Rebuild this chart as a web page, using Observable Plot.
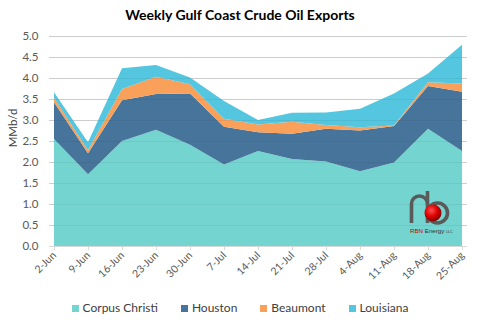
<!DOCTYPE html>
<html>
<head>
<meta charset="utf-8">
<script src="https://cdn.jsdelivr.net/npm/d3@7"></script>
<script src="https://cdn.jsdelivr.net/npm/@observablehq/plot@0.6"></script>
<style>
  html, body { margin: 0; padding: 0; background: #fff; }
  body { width: 480px; height: 321px; overflow: hidden; position: relative; font-family: Lato, "Open Sans", sans-serif; }
  #title { height: 28px; line-height: 30px; text-align: center; font-weight: bold; font-size: 14px; color: #000; }
  #chart svg { display: block; }
  #legend { display: flex; justify-content: center; gap: 23px; height: 26px; line-height: 26px; padding-top: 2px; font-size: 12px; color: #404040; }
  #legend span.sw { display: inline-block; width: 7px; height: 7px; margin-right: 4px; vertical-align: 0px; }
  #ylabel { position: absolute; left: 12px; top: 128px; transform: translate(-50%, -50%) rotate(-90deg); font-size: 11.5px; color: #404040; white-space: nowrap; }
  #logo { position: absolute; left: 395px; top: 180px; }
</style>
</head>
<body>
<div id="title">Weekly Gulf Coast Crude Oil Exports</div>
<div id="chart"></div>
<div id="legend"></div>
<div id="ylabel">MMb/d</div>
<svg id="logo" width="60" height="60" viewBox="0 0 60 60">
  <defs>
    <radialGradient id="ball" cx="0.4" cy="0.35" r="0.7">
      <stop offset="0" stop-color="#ff5050"/>
      <stop offset="0.5" stop-color="#e00000"/>
      <stop offset="1" stop-color="#700000"/>
    </radialGradient>
  </defs>
  <path d="M16.5 43 V24 a8 8 0 0 1 16 0" fill="none" stroke="#5a5a5a" stroke-width="3.6"/>
  <path d="M32.5 11 V43" fill="none" stroke="#5a5a5a" stroke-width="3.6"/>
  <circle cx="42.5" cy="33" r="10" fill="none" stroke="#5a5a5a" stroke-width="3.6"/>
  <circle cx="38" cy="33" r="8.5" fill="url(#ball)"/>
  <text x="15" y="53" font-size="6.2" font-family="Liberation Sans, sans-serif" fill="#333"><tspan fill="#c00">RBN</tspan> Energy <tspan font-size="3.5">LLC</tspan></text>
</svg>
<script>
const dates = ["2-Jun","9-Jun","16-Jun","23-Jun","30-Jun","7-Jul","14-Jul","21-Jul","28-Jul","4-Aug","11-Aug","18-Aug","25-Aug"];
const ports = ["Corpus Christi","Houston","Beaumont","Louisiana"];
const corpusChristi = [2.55,1.71,2.50,2.77,2.41,1.94,2.26,2.07,2.01,1.78,1.99,2.79,2.26];
const houston       = [0.87,0.50,0.97,0.85,1.22,0.90,0.45,0.60,0.78,0.97,0.87,1.02,1.41];
const beaumont      = [0.11,0.07,0.27,0.41,0.22,0.19,0.18,0.29,0.09,0.08,0.01,0.09,0.20];
const louisiana     = [0.13,0.19,0.49,0.28,0.16,0.42,0.11,0.21,0.30,0.44,0.76,0.21,0.92];
const yTicks = [0,0.5,1,1.5,2,2.5,3,3.5,4,4.5,5];
const colors = ["#74d4cf","#47749a","#f9a05a","#54c6df"];

const series = [corpusChristi, houston, beaumont, louisiana];
const data = dates.flatMap((d, i) => ports.map((p, j) => ({date: d, port: p, value: series[j][i]})));

const chart = Plot.plot({
  width: 480,
  height: 265,
  marginLeft: 49,
  marginRight: 13,
  marginTop: 8,
  marginBottom: 47,
  style: {fontFamily: "Lato, 'Open Sans', sans-serif", background: "#fff"},
  x: {type: "point", domain: dates, padding: 0},
  y: {domain: [0, 5]},
  color: {domain: ports, range: colors},
  marks: [
    Plot.ruleY(yTicks.slice(1), {stroke: "#d9d9d9", strokeWidth: 1}),
    Plot.areaY(data, {x: "date", y: "value", fill: "port", order: ports}),
    Plot.ruleY(yTicks.slice(1), {stroke: "#000", strokeOpacity: 0.05}),
    Plot.ruleY([0], {stroke: "#d9d9d9"}),
    Plot.axisX({tickRotate: -45, tickSize: 4, tickPadding: 3, stroke: "#d9d9d9", fill: "#595959", fontSize: 10.5, label: null}),
    Plot.axisY({ticks: yTicks, tickSize: 0, tickPadding: 11, tickFormat: d3.format(".1f"), fill: "#595959", fontSize: 11.5, label: null})
  ]
});
document.getElementById("chart").appendChild(chart);

const legend = document.getElementById("legend");
ports.forEach((p, i) => {
  const item = document.createElement("div");
  item.innerHTML = `<span class="sw" style="background:${colors[i]}"></span>${p}`;
  legend.appendChild(item);
});
</script>
</body>
</html>
